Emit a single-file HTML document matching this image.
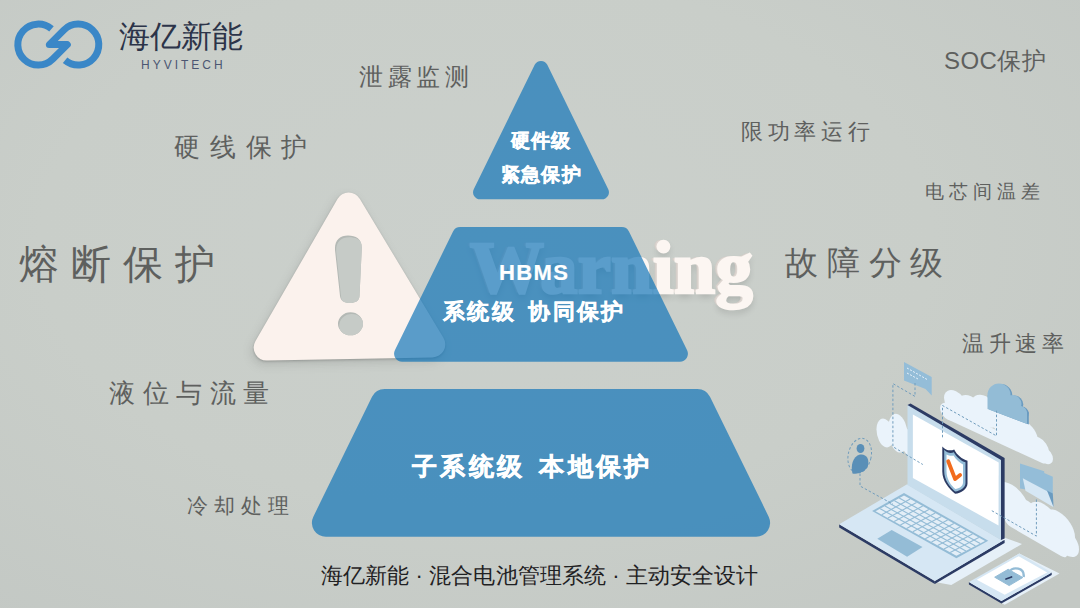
<!DOCTYPE html>
<html><head><meta charset="utf-8">
<style>
html,body{margin:0;padding:0;}
body{width:1080px;height:608px;overflow:hidden;position:relative;font-family:"Liberation Sans",sans-serif;
background:radial-gradient(ellipse 75% 80% at 45% 40%, #cbd0cc 0%, #c9cec9 55%, #c3c8c4 100%);}
.abs{position:absolute;white-space:nowrap;line-height:1;}
.hw{color:#5e605e;font-weight:normal;}
.wt{color:#fff;font-weight:900;-webkit-text-stroke:0.5px #fff;}
</style></head><body>

<!-- logo -->
<svg class="abs" style="left:0;top:0" width="260" height="80" viewBox="0 0 260 80">
  <path d="M51.5 28.9 A20.5 20.5 0 1 0 52.8 59.1 L67.3 44.6 L49.3 44.6 L63.8 30.1 A20.5 20.5 0 1 1 65.1 60.3" fill="none" stroke="#3a87c7" stroke-width="7" stroke-linejoin="round"/>
</svg>
<div class="abs" id="logo1" style="left:119px;top:21px;font-size:31px;color:#2c3449;font-weight:300;">海亿新能</div>
<div class="abs" id="logo2" style="left:141px;top:59px;font-size:12px;color:#4b5672;letter-spacing:3px;">HYVITECH</div>

<!-- warning triangle -->
<svg class="abs" style="left:0;top:0;filter:drop-shadow(0px 1.5px 0.8px rgba(0,0,0,0.2)) drop-shadow(-2px 4px 5px rgba(60,60,60,0.16))" width="1080" height="608">
  <path d="M337.47 199.10 A13.00 13.00 0 0 1 359.87 198.90 L443.40 337.73 A13.00 13.00 0 0 1 432.51 357.43 L267.01 360.56 A13.00 13.00 0 0 1 255.51 341.07 Z" fill="#fbf2ed"/>
  <defs><clipPath id="exc"><path d="M335 250 C334.5 240 340 235.5 348 235.5 C356 235.5 362 239 361.8 248 L359.5 296 C359.3 301 355 303 350 303 C344 303 340.5 300.5 340 296 Z"/><ellipse cx="350.5" cy="323.8" rx="12.5" ry="11.5"/></clipPath></defs>
  <g clip-path="url(#exc)">
  <rect x="320" y="225" width="60" height="120" fill="#b4b9b5"/>
  <path transform="translate(1.2 1.8)" d="M335 250 C334.5 240 340 235.5 348 235.5 C356 235.5 362 239 361.8 248 L359.5 296 C359.3 301 355 303 350 303 C344 303 340.5 300.5 340 296 Z" fill="#c6cbc7"/>
  <ellipse transform="translate(1.2 1.8)" cx="350.5" cy="323.8" rx="12.5" ry="11.5" fill="#c6cbc7"/>
  </g>
</svg>

<!-- Warning text -->
<div class="abs" id="warning" style="left:470px;top:231px;font-family:'Liberation Serif',serif;font-weight:bold;font-size:74px;letter-spacing:0.5px;color:#fcf6f2;-webkit-text-stroke:2.6px #fcf6f2;text-shadow:-1.5px -0.5px 0 #e6dfda,-2.5px -1px 0 #ddd6d1,-3.5px -1.5px 0 #d4cdc8,0px 4px 7px rgba(0,0,0,0.16);">Warning</div>

<!-- pyramid -->
<svg class="abs" style="left:0;top:0" width="1080" height="608">
  <path d="M534.71 64.83 A7.00 7.00 0 0 1 547.29 64.83 L608.24 189.22 A7.00 7.00 0 0 1 601.95 199.30 L480.05 199.30 A7.00 7.00 0 0 1 473.76 189.22 Z" fill="#0a72b8" fill-opacity="0.67"/>
  <path d="M453.05 231.48 A8.00 8.00 0 0 1 460.24 227.00 L621.76 227.00 A8.00 8.00 0 0 1 628.95 231.48 L687.11 350.18 A8.00 8.00 0 0 1 679.92 361.70 L402.08 361.70 A8.00 8.00 0 0 1 394.89 350.18 Z" fill="#0a72b8" fill-opacity="0.67"/>
  <path d="M372.03 396.84 A14.00 14.00 0 0 1 384.60 389.00 L697.40 389.00 A14.00 14.00 0 0 1 709.97 396.84 L768.67 516.64 A14.00 14.00 0 0 1 756.10 536.80 L325.90 536.80 A14.00 14.00 0 0 1 313.33 516.64 Z" fill="#0a72b8" fill-opacity="0.67"/>
</svg>

<div class="abs wt" id="t1" style="left:511px;top:132px;font-size:18.5px;letter-spacing:1.2px;">硬件级</div>
<div class="abs wt" id="t2" style="left:500.5px;top:166px;font-size:18.5px;letter-spacing:1.4px;">紧急保护</div>
<div class="abs wt" id="t3" style="left:499px;top:262px;font-size:22px;letter-spacing:1.4px;-webkit-text-stroke:0.2px #fff;">HBMS</div>
<div class="abs wt" id="t4" style="left:443px;top:301px;font-size:22px;letter-spacing:2.25px;-webkit-text-stroke:0.35px #fff;">系统级<span style="display:inline-block;width:12.5px"></span>协同保护</div>
<div class="abs wt" id="t5" style="left:412px;top:454px;font-size:25px;letter-spacing:3.3px;">子系统级<span style="display:inline-block;width:14px"></span>本地保护</div>

<!-- handwriting labels -->
<div class="abs hw" id="h1" style="left:359px;top:65px;font-size:24px;letter-spacing:4.5px;">泄露监测</div>
<div class="abs hw" id="h2" style="left:174px;top:134px;font-size:26px;letter-spacing:9.8px;">硬线保护</div>
<div class="abs hw" id="h3" style="left:19px;top:244px;font-size:40px;letter-spacing:12px;">熔断保护</div>
<div class="abs hw" id="h4" style="left:944px;top:49px;font-size:24px;letter-spacing:0.4px;">SOC保护</div>
<div class="abs hw" id="h5" style="left:741px;top:121px;font-size:22px;letter-spacing:4.7px;">限功率运行</div>
<div class="abs hw" id="h6" style="left:925px;top:182px;font-size:19px;letter-spacing:5px;">电芯间温差</div>
<div class="abs hw" id="h7" style="left:785px;top:246px;font-size:33px;letter-spacing:8.8px;">故障分级</div>
<div class="abs hw" id="h8" style="left:962px;top:333px;font-size:22px;letter-spacing:4.6px;">温升速率</div>
<div class="abs hw" id="h9" style="left:109px;top:380px;font-size:26px;letter-spacing:7.5px;">液位与流量</div>
<div class="abs hw" id="h10" style="left:187px;top:495px;font-size:21px;letter-spacing:6px;">冷却处理</div>

<!-- footer -->
<div class="abs" id="foot" style="left:321px;top:565px;font-size:22px;letter-spacing:0.1px;color:#1f2123;font-weight:500;">海亿新能 · 混合电池管理系统 · 主动安全设计</div>

<!-- laptop illustration -->
<svg class="abs" id="laptop" style="left:0;top:0" width="1080" height="608">
<g fill="#eaf3fb">
  <!-- upper band cloud (skewed local coords) -->
  <g transform="matrix(1 0.46 0 1 940 416)">
    <circle cx="8" cy="-8" r="8"/>
    <circle cx="16" cy="-20" r="12"/>
    <circle cx="31" cy="-21" r="13"/>
    <circle cx="46" cy="-26" r="15"/>
    <circle cx="66" cy="-24" r="16"/>
    <circle cx="84" cy="-20" r="14"/>
    <circle cx="99" cy="-14" r="10"/>
    <circle cx="105" cy="-9" r="8"/>
    <rect x="4" y="-12" width="104" height="12" rx="6"/>
  </g>
  <!-- left cloud -->
  <g transform="matrix(1 0.4 0 1 875 443)">
    <ellipse cx="10" cy="-14" rx="8.5" ry="14"/>
    <ellipse cx="23" cy="-19" rx="10" ry="19"/>
    <ellipse cx="34" cy="-14" rx="8" ry="13"/>
  </g>
  <!-- lower right cloud -->
  <g transform="matrix(1 0.58 0 1 1004 523)">
    <circle cx="8" cy="-26" r="17"/>
    <circle cx="24" cy="-22" r="14"/>
    <circle cx="40" cy="-26" r="16"/>
    <circle cx="55" cy="-27" r="16"/>
    <circle cx="62" cy="-17" r="13"/>
    <rect x="0" y="-22" width="64" height="22" rx="7"/>
  </g>
</g>
<!-- blue cloud -->
<g fill="#6a9bc0" transform="translate(1.8 0.6)">
  <circle cx="999" cy="395" r="11.5"/><circle cx="1012.5" cy="404" r="9"/><circle cx="1020" cy="413" r="7"/>
  <polygon points="987.5,395 987.5,409 1027,424 1027,412 1010,395"/>
</g>
<g fill="#93bcd6">
  <circle cx="999" cy="395" r="11.5"/><circle cx="1012.5" cy="404" r="9"/><circle cx="1020" cy="413" r="7"/>
  <polygon points="987.5,395 987.5,409 1027,424 1027,412 1010,395"/>
</g>
<!-- flag -->
<polygon points="904,362 931.7,377 931.7,395.4 925.5,389 904,380.6" fill="#94bdd8"/>
<g stroke="#eaf3fb" stroke-width="1" stroke-dasharray="2 1.5"><line x1="907" y1="368" x2="928" y2="380"/><line x1="907" y1="373" x2="918" y2="379"/></g>
<!-- folder -->
<polygon points="1020,463.6 1044.2,471.3 1044.2,473 1052.8,476.7 1052.8,494 1020,488.4" fill="#94bdd8"/>
<polygon points="1022.8,478.3 1050.5,493.1 1053.6,507.2 1025.5,490.8" fill="#d6e7f4"/>
<polygon points="1047,490.5 1052.8,493.5 1053.6,507.2" fill="#6a9bc0"/>
<!-- person -->
<ellipse cx="859.7" cy="455.6" rx="11.5" ry="17.5" transform="rotate(12 859.7 455.6)" fill="none" stroke="#719dbd" stroke-width="1" stroke-dasharray="2.5 2"/>
<ellipse cx="860.5" cy="448.5" rx="3.9" ry="4.6" fill="#5a8fb7"/>
<path d="M852.5 473.5 C850.5 466 852.5 456.5 860 454.5 C866.5 453.5 869.5 459 868 465.5 C866.5 471 859 474.5 852.5 473.5 Z" fill="#5a8fb7"/>
<!-- laptop floor shadow -->
<polygon points="1002.7,537 1022,544 951.3,585 934.8,582" fill="#e6f0f8"/>
<!-- base -->
<polygon points="839.2,524.3 934.8,580.9 934.8,584 839.2,527.4" fill="#2c3b64"/>
<polygon points="934.8,580.9 1002.7,540.8 1004.6,540 1004.6,543 934.8,584" fill="#2c3b64"/>
<polygon points="839.2,524.3 907.1,484.2 1002.7,540.8 934.8,580.9" fill="#d6e7f4"/>
<!-- screen -->
<polygon points="907.5,405 910.5,403.5 1004.6,458 1004.6,538.5 1001,540" fill="#2c3b64"/>
<polygon points="907.5,405 1001,460 1001,540 907.5,485" fill="#c7ddec"/>
<polygon points="912.9,414.4 998.7,462.5 998.5,525.4 912.9,478" fill="#ffffff"/>
<!-- shield -->
<path d="M942.3 446.4 C946 451 951 451 954.2 449.4 C957 455 962 459 967.5 460.7 L967.5 483.4 C967.5 489 961 493 955.1 493.7 C949 489 942.3 481 942.3 471.6 Z" fill="#2c3b64"/>
<path d="M944.2 449.8 C947.5 453.5 951.5 453.5 953.8 452.2 C956.5 457 961 461 965.5 462.3 L965.5 483 C965.5 487.5 960.5 491 955.1 491.5 C950 487.5 944.2 480 944.2 471.3 Z" fill="#94bdd8"/>
<path d="M946.5 454.5 C949 456 952 456 953.5 455.5 C956 459.5 960 463 963 464.5 L963 482.5 C963 486 959.5 488.5 955.3 489 C951 485.5 946.5 479 946.5 471 Z" fill="#ffffff"/>
<polyline points="948.2,461.2 955.1,479 960.1,475" fill="none" stroke="#f26b1d" stroke-width="3.8" stroke-linecap="round" stroke-linejoin="round"/>
<!-- keyboard -->
<polygon points="872.1,511 904,493.1 988.3,540.8 956.4,558.2" fill="#94bcd6"/>
<polygon points="875.5,511.3 904,495.5 985,541 956.4,555.8" fill="#e3eef7"/>
<g stroke="#94bcd6" stroke-width="1.1"><line x1="880.2" y1="508.7" x2="961.2" y2="553.3"/><line x1="885.0" y1="506.0" x2="965.9" y2="550.9"/><line x1="889.8" y1="503.4" x2="970.7" y2="548.4"/><line x1="894.5" y1="500.8" x2="975.5" y2="545.9"/><line x1="899.2" y1="498.1" x2="980.2" y2="543.5"/><line x1="881.7" y1="514.7" x2="910.2" y2="499.0"/><line x1="887.9" y1="518.1" x2="916.5" y2="502.5"/><line x1="894.2" y1="521.6" x2="922.7" y2="506.0"/><line x1="900.4" y1="525.0" x2="928.9" y2="509.5"/><line x1="906.6" y1="528.4" x2="935.2" y2="513.0"/><line x1="912.8" y1="531.8" x2="941.4" y2="516.5"/><line x1="919.1" y1="535.3" x2="947.6" y2="520.0"/><line x1="925.3" y1="538.7" x2="953.8" y2="523.5"/><line x1="931.5" y1="542.1" x2="960.1" y2="527.0"/><line x1="937.7" y1="545.5" x2="966.3" y2="530.5"/><line x1="944.0" y1="549.0" x2="972.5" y2="534.0"/><line x1="950.2" y1="552.4" x2="978.8" y2="537.5"/></g>
<!-- touchpad -->
<polygon points="877.3,538.7 891.7,530.1 922.5,547 907.1,556.8" fill="#94bcd6"/>
<!-- tablet floor -->
<polygon points="1019.3,553.4 1059.5,573.5 1004.7,604.8 968.9,584" fill="#e6f0f8"/>
<!-- tablet -->
<polygon points="968.9,581.9 1001.4,600.9 1051.7,572.4 1051.7,575 1001.4,603.6 968.9,584.5" fill="#2c3b64"/>
<polygon points="968.9,581.9 1019.3,553.4 1051.7,572.4 1001.4,600.9" fill="#d6e7f4"/>
<polygon points="976.8,579.7 1018.7,556.2 1047.2,572.4 1004.7,594.8" fill="#ffffff"/>
<path d="M1010.5 570.5 C1012.5 566.8 1025 567.2 1023.6 577" fill="none" stroke="#94bcd6" stroke-width="2.4"/>
<polygon points="994.7,577.2 1008.2,569.3 1022.8,577.5 1009.2,585.6" fill="#94bcd6" stroke="#94bcd6" stroke-width="1" stroke-linejoin="round"/>
<line x1="1006" y1="579" x2="1011.5" y2="577" stroke="#2c3b64" stroke-width="1.8" stroke-linecap="round"/>
<!-- dashed lines (on top) -->
<g fill="none" stroke="#719dbd" stroke-width="1" stroke-dasharray="2.5 2">
  <polyline points="915,383 915,396.4 892.9,383.6 892.9,446.7 922.8,464.5"/>
  <polyline points="942.5,437.3 942.5,405.5 996.5,435.9 996.5,410.7"/>
  <polyline points="860,473.5 860,486 893,504.2"/>
  <polyline points="991.8,510.7 1036.4,536.1 1036.4,497.8"/>
</g>

</svg>

</body></html>
